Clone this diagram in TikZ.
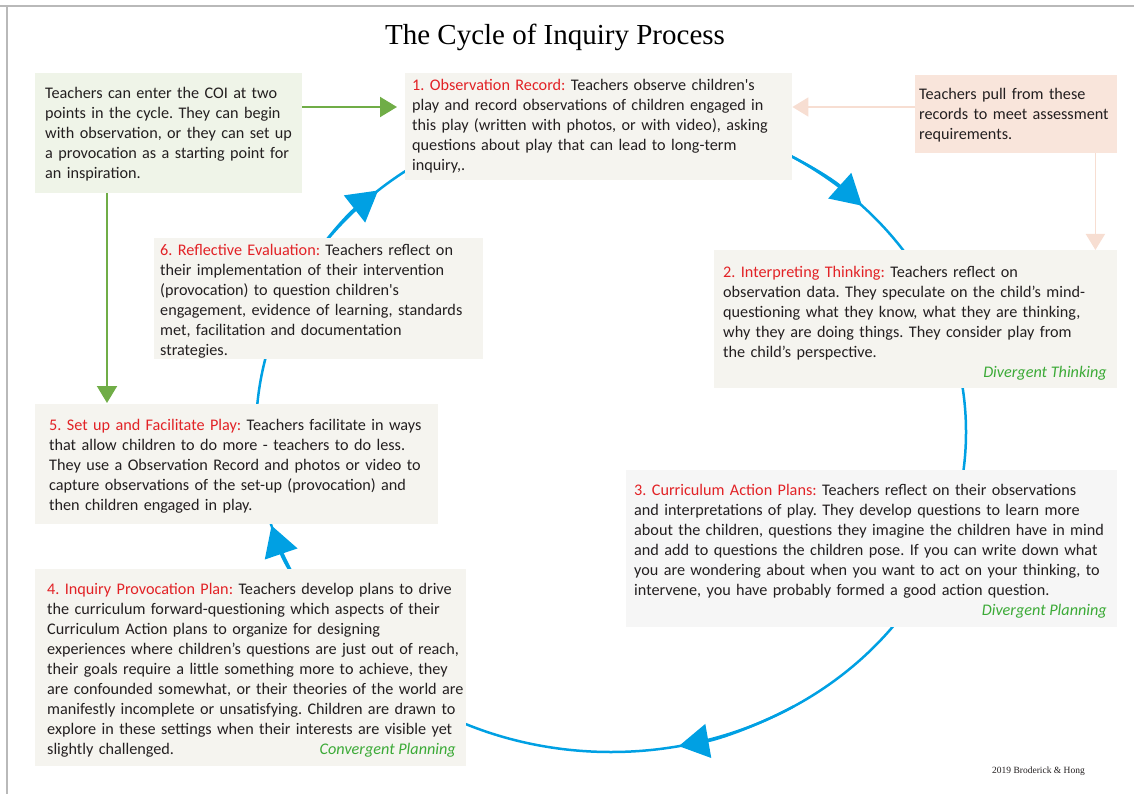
\documentclass[tikz,border=0pt]{standalone}
\usepackage{fontspec}
\setmainfont{Carlito}
\newfontfamily\titlefont{Liberation Serif}
\usetikzlibrary{arrows.meta,calc}

\definecolor{ink}{RGB}{35,31,32}
\definecolor{framegray}{RGB}{185,185,185}
\definecolor{warmpanel}{RGB}{245,244,239}
\definecolor{greypanel}{RGB}{246,246,246}
\definecolor{greenpanel}{RGB}{239,244,232}
\definecolor{pinkpanel}{RGB}{249,229,219}
\definecolor{pinkline}{RGB}{247,222,210}
\definecolor{entrygreen}{RGB}{112,173,71}
\definecolor{cycleblue}{RGB}{0,160,227}
\definecolor{labelred}{RGB}{226,34,38}
\definecolor{notegreen}{RGB}{60,170,55}

\newcommand{\steplabel}[1]{\textcolor{labelred}{#1}}

\begin{document}
\frenchspacing
\begin{tikzpicture}[x=1pt,y=-1pt,
  panel/.style={fill=#1, draw=none, inner sep=0pt, anchor=north west},
  body/.style={anchor=base west, inner sep=0pt, align=left, text width=540pt,
    text=ink, font=\fontsize{16.2}{20}\selectfont\frenchspacing},
  mode/.style={anchor=base east, inner sep=0pt, text=notegreen,
    font=\fontsize{16.2}{20}\selectfont\itshape},
  cycleline/.style={draw=cycleblue, line width=2.5pt},
  cyclehead/.style={cycleline, -{Triangle[length=30pt,width=34pt]}},
  entryarrow/.style={draw=entrygreen, line width=2pt, -{Triangle[length=17pt,width=20pt]}},
  recordarrow/.style={draw=pinkline, line width=1.8pt, -{Triangle[length=16pt,width=19pt]}}
]
\useasboundingbox (0,0) rectangle (1134,794);

% page frame
\draw[framegray, line width=2pt] (0,6) -- (1134,6);
\draw[framegray, line width=2pt] (7,6) -- (7,794);

% title and credit
\node[anchor=base, inner sep=0pt, text=black, font=\titlefont\fontsize{29}{33}\selectfont]
  (title) at (555,45) {The Cycle of Inquiry Process};
\node[anchor=base east, inner sep=0pt, text=ink, font=\titlefont\fontsize{9.5}{11}\selectfont]
  (credit) at (1085,773) {2019 Broderick \& Hong};

% the cycle
\coordinate (hub) at (611,432);
\draw[cycleline] (hub) ellipse [x radius=355, y radius=320];
\draw[cyclehead] (hub) ++(-65:355 and 320) arc[start angle=-65, end angle=-45, x radius=355, y radius=320];
\draw[cyclehead] (hub) ++(59:355 and 320) arc[start angle=59, end angle=79, x radius=355, y radius=320];
\draw[cyclehead] (hub) ++(143:355 and 320) arc[start angle=143, end angle=163, x radius=355, y radius=320];
\draw[cyclehead] (hub) ++(209:355 and 320) arc[start angle=209, end angle=229, x radius=355, y radius=320];

% panels
\node[panel=greenpanel, minimum width=267pt, minimum height=120pt] (entry) at (35,73) {};
\node[panel=warmpanel, minimum width=387pt, minimum height=107pt] (s1) at (405,73) {};
\node[panel=pinkpanel, minimum width=202pt, minimum height=78pt] (assess) at (915,75) {};
\node[panel=warmpanel, minimum width=403pt, minimum height=138pt] (s2) at (714,250) {};
\node[panel=greypanel, minimum width=491pt, minimum height=157pt] (s3) at (626,470) {};
\node[panel=warmpanel, minimum width=431pt, minimum height=197pt] (s4) at (35,569) {};
\node[panel=warmpanel, minimum width=403pt, minimum height=120pt] (s5) at (35,404) {};
\node[panel=warmpanel, minimum width=329pt, minimum height=121pt] (s6) at (154,238) {};

% entry and assessment arrows
\draw[entryarrow, shorten >=8pt] ($(entry.north east)+(0,34)$) coordinate (e1) -- (e1 -| s1.west);
\draw[entryarrow, shorten >=1pt] ($(entry.south west)+(72,0)$) coordinate (e2) -- (e2 |- s5.north);
\draw[recordarrow] ($(assess.north west)+(0,32)$) coordinate (a1) -- (a1 -| s1.east);
\draw[recordarrow] ($(assess.south east)+(-22,0)$) coordinate (a2) -- (a2 |- s2.north);

% texts
\node[body] (entrytext) at (45,99) {Teachers can enter the COI at two\\
points in the cycle. They can begin\\
with observation, or they can set up\\
a provocation as a starting point for\\
an inspiration.};

\node[body] (s1text) at (412,91) {\steplabel{1. Observation Record:} Teachers observe children\textquotesingle s\\
play and record observations of children engaged in\\
this play (written with photos, or with video), asking\\
questions about play that can lead to long-term\\
inquiry,.};

\node[body] (assesstext) at (919,100) {Teachers pull from these\\
records to meet assessment\\
requirements.};

\node[body] (s2text) at (723,277) {\steplabel{2. Interpreting Thinking:} Teachers reflect on\\
observation data. They speculate on the child’s mind-\\
questioning what they know, what they are thinking,\\
why they are doing things. They consider play from\\
the child’s perspective.};
\node[mode] (s2mode) at (1107,377) {Divergent Thinking};

\node[body] (s3text) at (634,495) {\steplabel{3. Curriculum Action Plans:} Teachers reflect on their observations\\
and interpretations of play. They develop questions to learn more\\
about the children, questions they imagine the children have in mind\\
and add to questions the children pose. If you can write down what\\
you are wondering about when you want to act on your thinking, to\\
intervene, you have probably formed a good action question.};
\node[mode] (s3mode) at (1107,615) {Divergent Planning};

\node[body] (s4text) at (47,594) {\steplabel{4. Inquiry Provocation Plan:} Teachers develop plans to drive\\
the curriculum forward-questioning which aspects of their\\
Curriculum Action plans to organize for designing\\
experiences where children’s questions are just out of reach,\\
their goals require a little something more to achieve, they\\
are confounded somewhat, or their theories of the world are\\
manifestly incomplete or unsatisfying. Children are drawn to\\
explore in these settings when their interests are visible yet\\
slightly challenged.};
\node[mode] (s4mode) at (456,754) {Convergent Planning};

\node[body] (s5text) at (49,430) {\steplabel{5. Set up and Facilitate Play:} Teachers facilitate in ways\\
that allow children to do more - teachers to do less.\\
They use a Observation Record and photos or video to\\
capture observations of the set-up (provocation) and\\
then children engaged in play.};

\node[body] (s6text) at (160,255) {\steplabel{6. Reflective Evaluation:} Teachers reflect on\\
their implementation of their intervention\\
(provocation) to question children\textquotesingle s\\
engagement, evidence of learning, standards\\
met, facilitation and documentation\\
strategies.};
\end{tikzpicture}
\end{document}
